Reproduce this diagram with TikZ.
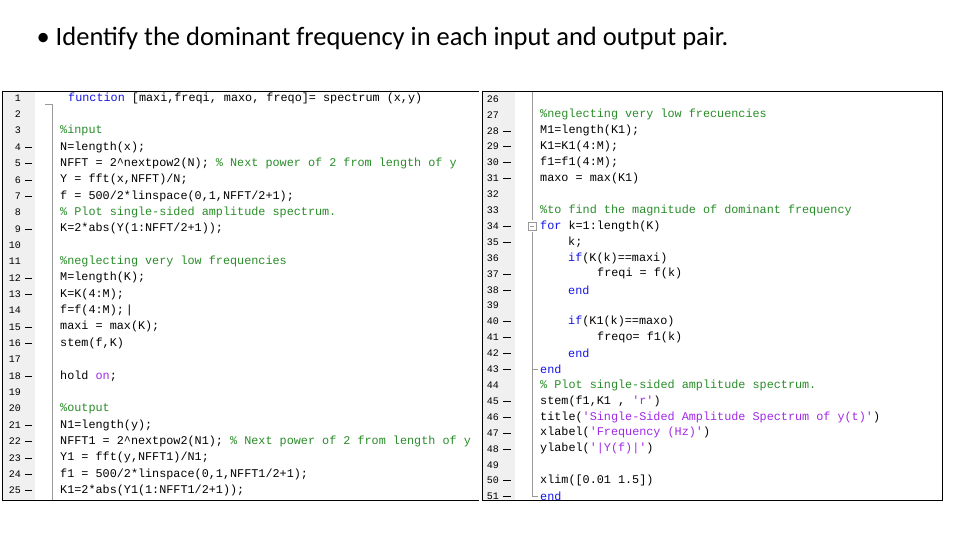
\documentclass[tikz,border=0pt]{standalone}
\usepackage{fontspec}
\setmainfont{Carlito}
\newfontfamily\codefont{Liberation Mono}
\definecolor{kwblue}{RGB}{20,20,230}
\definecolor{cmgreen}{RGB}{40,140,40}
\definecolor{strpurple}{RGB}{160,40,230}
\definecolor{gutter}{RGB}{240,240,240}
\tikzset{
  codeline/.style={anchor=west, inner sep=0pt, font=\codefont\fontsize{11.8}{12}\selectfont},
  lineno/.style={anchor=east, inner sep=0pt, font=\codefont\fontsize{10}{12}\selectfont},
  panel/.style={draw=black, line width=1pt}
}
\newcommand{\kw}[1]{\textcolor{kwblue}{#1}}
\newcommand{\cm}[1]{\textcolor{cmgreen}{#1}}
\newcommand{\st}[1]{\textcolor{strpurple}{#1}}
\newcommand{\caret}{\textasciicircum}
\begin{document}
\begin{tikzpicture}[x=1pt,y=-1pt]
	\useasboundingbox (0,0) rectangle (960,540);
	\node[anchor=west, font=\fontsize{26.5}{30}\selectfont] (title) at (33,38) {\textbullet\ Identify the dominant frequency in each input and output pair.};

	% left panel
	\fill[gutter] (2,92) rectangle (35,500);
	\draw[gray!80] (52,104) -- (52,500);
	\draw[gray!80] (45,104) -- (52,104);
	\draw[panel] (2,92) rectangle (478,500);
	\foreach \n/\d in {1/0,2/0,3/0,4/1,5/1,6/1,7/1,8/0,9/1,10/0,11/0,12/1,13/1,14/0,15/1,16/1,17/0,18/1,19/0,20/0,21/1,22/1,23/1,24/1,25/1} {
		\node[lineno] (l\n) at (21,{98+(\n-1)*16.35}) {\n};
		\ifnum\d=1 \draw (25,{98+(\n-1)*16.35}) -- (32,{98+(\n-1)*16.35});\fi
	}
	\node[codeline] (c1) at (68,98) {\kw{function} [maxi,freqi, maxo, freqo]= spectrum (x,y)};
	\node[codeline] (c3) at (60,{98+2*16.35}) {\cm{\%input}};
	\node[codeline] (c4) at (60,{98+3*16.35}) {N=length(x);};
	\node[codeline] (c5) at (60,{98+4*16.35}) {NFFT = 2\caret nextpow2(N); \cm{\% Next power of 2 from length of y}};
	\node[codeline] (c6) at (60,{98+5*16.35}) {Y = fft(x,NFFT)/N;};
	\node[codeline] (c7) at (60,{98+6*16.35}) {f = 500/2*linspace(0,1,NFFT/2+1);};
	\node[codeline] (c8) at (60,{98+7*16.35}) {\cm{\% Plot single-sided amplitude spectrum.}};
	\node[codeline] (c9) at (60,{98+8*16.35}) {K=2*abs(Y(1:NFFT/2+1));};
	\node[codeline] (c11) at (60,{98+10*16.35}) {\cm{\%neglecting very low frequencies}};
	\node[codeline] (c12) at (60,{98+11*16.35}) {M=length(K);};
	\node[codeline] (c13) at (60,{98+12*16.35}) {K=K(4:M);};
	\node[codeline] (c14) at (60,{98+13*16.35}) {f=f(4:M);\,|};
	\node[codeline] (c15) at (60,{98+14*16.35}) {maxi = max(K);};
	\node[codeline] (c16) at (60,{98+15*16.35}) {stem(f,K)};
	\node[codeline] (c18) at (60,{98+17*16.35}) {hold \st{on};};
	\node[codeline] (c20) at (60,{98+19*16.35}) {\cm{\%output}};
	\node[codeline] (c21) at (60,{98+20*16.35}) {N1=length(y);};
	\node[codeline] (c22) at (60,{98+21*16.35}) {NFFT1 = 2\caret nextpow2(N1); \cm{\% Next power of 2 from length of y}};
	\node[codeline] (c23) at (60,{98+22*16.35}) {Y1 = fft(y,NFFT1)/N1;};
	\node[codeline] (c24) at (60,{98+23*16.35}) {f1 = 500/2*linspace(0,1,NFFT1/2+1);};
	\node[codeline] (c25) at (60,{98+24*16.35}) {K1=2*abs(Y1(1:NFFT1/2+1));};

	% right panel
	\fill[white] (478,92) rectangle (482,500);
	\fill[gutter] (482,92) rectangle (515,500);
	\draw[gray!80] (532,92) -- (532,220);
	\draw[gray!80] (532,232) -- (532,496);
	\draw[gray!80] (528,222) rectangle (536,230);
	\draw[gray!80] (530,226) -- (534,226);
	\draw[gray!80] (532,369) -- (538,369);
	\draw[gray!80] (532,496) -- (538,496);
	\draw[panel] (482,92) rectangle (942,500);
	\foreach \n/\d in {26/0,27/0,28/1,29/1,30/1,31/1,32/0,33/0,34/1,35/1,36/0,37/1,38/1,39/0,40/1,41/1,42/1,43/1,44/0,45/1,46/1,47/1,48/1,49/0,50/1,51/1} {
		\node[lineno] (l\n) at (499,{99+(\n-26)*15.9}) {\n};
		\ifnum\d=1 \draw (503,{99+(\n-26)*15.9}) -- (511,{99+(\n-26)*15.9});\fi
	}
	\node[codeline] (c27) at (540,{99+1*15.9}) {\cm{\%neglecting very low frecuencies}};
	\node[codeline] (c28) at (540,{99+2*15.9}) {M1=length(K1);};
	\node[codeline] (c29) at (540,{99+3*15.9}) {K1=K1(4:M);};
	\node[codeline] (c30) at (540,{99+4*15.9}) {f1=f1(4:M);};
	\node[codeline] (c31) at (540,{99+5*15.9}) {maxo = max(K1)};
	\node[codeline] (c33) at (540,{99+7*15.9}) {\cm{\%to find the magnitude of dominant frequency}};
	\node[codeline] (c34) at (540,{99+8*15.9}) {\kw{for} k=1:length(K)};
	\node[codeline] (c35) at (568,{99+9*15.9}) {k;};
	\node[codeline] (c36) at (568,{99+10*15.9}) {\kw{if}(K(k)==maxi)};
	\node[codeline] (c37) at (597,{99+11*15.9}) {freqi = f(k)};
	\node[codeline] (c38) at (568,{99+12*15.9}) {\kw{end}};
	\node[codeline] (c40) at (568,{99+14*15.9}) {\kw{if}(K1(k)==maxo)};
	\node[codeline] (c41) at (597,{99+15*15.9}) {freqo= f1(k)};
	\node[codeline] (c42) at (568,{99+16*15.9}) {\kw{end}};
	\node[codeline] (c43) at (540,{99+17*15.9}) {\kw{end}};
	\node[codeline] (c44) at (540,{99+18*15.9}) {\cm{\% Plot single-sided amplitude spectrum.}};
	\node[codeline] (c45) at (540,{99+19*15.9}) {stem(f1,K1 , \st{'r'})};
	\node[codeline] (c46) at (540,{99+20*15.9}) {title(\st{'Single-Sided Amplitude Spectrum of y(t)'})};
	\node[codeline] (c47) at (540,{99+21*15.9}) {xlabel(\st{'Frequency (Hz)'})};
	\node[codeline] (c48) at (540,{99+22*15.9}) {ylabel(\st{'|Y(f)|'})};
	\node[codeline] (c50) at (540,{99+24*15.9}) {xlim([0.01 1.5])};
	\node[codeline] (c51) at (540,{99+25*15.9}) {\kw{end}};
\end{tikzpicture}
\end{document}
